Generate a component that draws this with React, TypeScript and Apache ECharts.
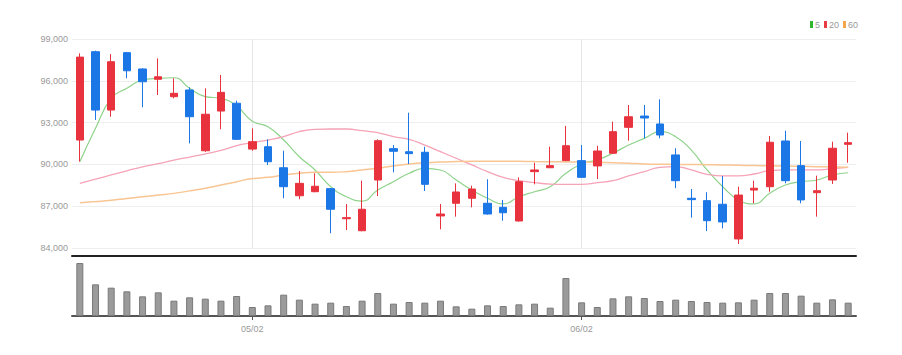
import React, { useEffect, useRef } from 'react';
import * as echarts from 'echarts';

const dates = [
  '04/16', '04/17', '04/18', '04/19', '04/22', '04/23', '04/24', '04/25', '04/26', '04/29',
  '04/30', '05/02', '05/03', '05/06', '05/07', '05/08', '05/09', '05/10', '05/13', '05/14',
  '05/15', '05/16', '05/17', '05/20', '05/21', '05/22', '05/23', '05/24', '05/27', '05/28',
  '05/29', '05/30', '06/02', '06/03', '06/04', '06/05', '06/07', '06/10', '06/11', '06/12',
  '06/13', '06/14', '06/17', '06/18', '06/19', '06/20', '06/21', '06/24', '06/25', '06/26',
];

const opens = [
  91750, 98090, 93900, 98020, 96850, 96110, 94860, 95340, 90980, 93830,
  94390, 91100, 91270, 89760, 87750, 88040, 88260, 86100, 85240, 88880,
  91130, 90910, 90870, 86300, 87210, 87570, 87210, 86920, 85940, 89480,
  89760, 90270, 90270, 89890, 90800, 92660, 93470, 92900, 90680, 87570,
  87400, 87140, 84650, 88160, 88400, 91680, 89910, 87970, 88880, 91440,
];
const closes = [
  97700, 93900, 97370, 96720, 95930, 96290, 95100, 93420, 93600, 95170,
  91800, 91630, 90190, 88400, 88640, 88430, 86780, 86180, 86780, 91700,
  90940, 90770, 88570, 86440, 88020, 88230, 86440, 86530, 88760, 89600,
  89910, 91340, 89070, 90960, 92350, 93420, 93330, 92110, 88830, 87470,
  85960, 85870, 87800, 88290, 91590, 88830, 87450, 88110, 91160, 91560,
];
const lows = [
  90200, 93190, 93420, 96180, 94100, 94980, 94740, 91510, 90900, 92520,
  91750, 90980, 89960, 87570, 87500, 88000, 85060, 85290, 85200, 87730,
  89430, 90030, 88090, 85340, 86250, 86920, 86400, 85960, 85900, 88570,
  89740, 90240, 89040, 88950, 90760, 91700, 91870, 91870, 88290, 86180,
  85220, 85410, 84290, 87210, 88040, 88640, 87210, 86250, 88590, 90120,
];
const highs = [
  97970, 98160, 97920, 98070, 96900, 97610, 96180, 95530, 95460, 96420,
  94570, 92590, 91800, 90980, 89530, 89360, 88300, 87160, 88830, 91800,
  91390, 93710, 91270, 87160, 88640, 88470, 88930, 87450, 89070, 90120,
  91270, 92760, 91390, 91340, 93070, 94260, 94260, 94670, 91160, 88230,
  88000, 89170, 88400, 88830, 92040, 92420, 91680, 89190, 91630, 92280,
];

const ma5 = [
  90190, 92590, 94740, 95460, 96060, 96180, 96220, 95460, 94860, 94740,
  94190, 93100, 92710, 91750, 90550, 89600, 88400, 87680, 87370, 88160,
  88760, 89360, 89720, 89600, 88880, 88160, 87570, 87160, 87680, 88040,
  88400, 89360, 90030, 90320, 90800, 91390, 91870, 92350, 91990, 91030,
  89600, 88400, 87450, 87160, 87930, 88520, 88760, 88880, 89240, 89400,
];
const ma20 = [
  88640, 88940, 89240, 89540, 89830, 90050, 90300, 90530, 90750, 91000,
  91350, 91560, 91750, 91990, 92350, 92520, 92540, 92540, 92420, 92280,
  91990, 91800, 91390, 90910, 90440, 89960, 89480, 89070, 88830, 88690,
  88590, 88570, 88570, 88690, 88830, 89170, 89480, 89790, 89840, 89600,
  89290, 89170, 89170, 89310, 89550, 89600, 89600, 89600, 89690, 89790,
];
const ma60 = [
  87250, 87330, 87420, 87560, 87680, 87800, 87920, 88100, 88290, 88520,
  88760, 88980, 89070, 89240, 89360, 89430, 89430, 89480, 89600, 89720,
  89890, 90030, 90120, 90170, 90200, 90220, 90230, 90230, 90220, 90200,
  90190, 90180, 90170, 90150, 90120, 90080, 90030, 90010, 90000, 89990,
  89980, 89960, 89940, 89920, 89900, 89880, 89860, 89840, 89820, 89800,
];

const volumes = [
  159, 95, 85, 74, 59, 71, 46, 56, 52, 46,
  60, 27, 32, 64, 49, 37, 40, 30, 46, 69,
  37, 42, 40, 46, 29, 22, 32, 30, 35, 37,
  25, 114, 41, 27, 53, 59, 54, 45, 49, 45,
  42, 40, 41, 49, 69, 69, 61, 40, 50, 40,
];

const monthTickLabels = ['05/02', '06/02'];
const legendNames = ['5', '20', '60'];

const FONT = '"Liberation Sans Narrow", "Arial Narrow", "Liberation Sans", sans-serif';
const UP = '#e8323d';
const DOWN = '#1b76e6';

export default function App() {
  const ref = useRef<HTMLDivElement>(null);

  useEffect(() => {
    if (!ref.current) return;
    const chart = echarts.init(ref.current, null, { renderer: 'svg' });
    const candle = dates.map((_, i) => [opens[i], closes[i], lows[i], highs[i]]);
    const isMonth = (i: number) => monthTickLabels.includes(dates[i]);

    chart.setOption({
      animation: false,
      backgroundColor: '#fff',
      legend: {
        left: 810,
        top: 20,
        padding: 0,
        itemWidth: 3,
        itemHeight: 7,
        itemGap: 4,
        selectedMode: false,
        textStyle: { fontSize: 9, color: '#999', fontFamily: FONT, padding: [0, 0, 0, -3] },
        data: [
          { name: legendNames[0], icon: 'rect', itemStyle: { color: '#2fb52f' } },
          { name: legendNames[1], icon: 'rect', itemStyle: { color: '#ea3a44' } },
          { name: legendNames[2], icon: 'rect', itemStyle: { color: '#f5a54b' } },
        ],
      },
      grid: [
        { left: 72, right: 46, top: 39, height: 209 },
        { left: 72, right: 46, top: 262, height: 54 },
      ],
      xAxis: [
        {
          type: 'category',
          gridIndex: 0,
          data: dates,
          boundaryGap: true,
          offset: 8,
          axisLine: { show: true, onZero: false, lineStyle: { color: '#222', width: 2 } },
          axisTick: { show: false },
          axisLabel: { show: false },
          splitLine: {
            show: true,
            alignWithLabel: true,
            interval: (i: number) => isMonth(i),
            lineStyle: { color: '#e6e6e6', width: 1 },
          },
        },
        {
          type: 'category',
          gridIndex: 1,
          data: dates,
          boundaryGap: true,
          axisLine: { show: true, onZero: false, lineStyle: { color: '#555', width: 2 } },
          axisTick: {
            show: true,
            alignWithLabel: true,
            interval: (i: number) => isMonth(i),
            length: 4,
            lineStyle: { color: '#555', width: 1 },
          },
          axisLabel: {
            interval: (i: number) => isMonth(i),
            color: '#999',
            fontSize: 9,
            fontFamily: FONT,
            margin: 8,
          },
          splitLine: { show: false },
        },
      ],
      yAxis: [
        {
          type: 'value',
          gridIndex: 0,
          min: 84000,
          max: 99000,
          interval: 3000,
          axisLine: { show: false },
          axisTick: { show: false },
          axisLabel: {
            color: '#999',
            fontSize: 9,
            fontFamily: FONT,
            margin: 4,
            formatter: (v: number) => v.toLocaleString('en-US'),
          },
          splitLine: { show: true, lineStyle: { color: '#eeeeee', width: 1 } },
        },
        {
          type: 'value',
          gridIndex: 1,
          min: 0,
          max: 162,
          show: false,
          splitLine: { show: false },
        },
      ],
      series: [
        {
          type: 'candlestick',
          name: 'price',
          xAxisIndex: 0,
          yAxisIndex: 0,
          z: 3,
          data: candle,
          barWidth: 8,
          itemStyle: {
            color: UP,
            color0: DOWN,
            borderColor: UP,
            borderColor0: DOWN,
            borderWidth: 1,
          },
        },
        {
          type: 'line',
          name: legendNames[0],
          xAxisIndex: 0,
          yAxisIndex: 0,
          z: 2,
          data: ma5,
          smooth: true,
          showSymbol: false,
          symbol: 'none',
          lineStyle: { color: '#8fd38b', width: 1.2 },
          itemStyle: { color: '#2fb52f' },
        },
        {
          type: 'line',
          name: legendNames[1],
          xAxisIndex: 0,
          yAxisIndex: 0,
          z: 2,
          data: ma20,
          smooth: true,
          showSymbol: false,
          symbol: 'none',
          lineStyle: { color: '#f5a3b6', width: 1.3 },
          itemStyle: { color: '#ea3a44' },
        },
        {
          type: 'line',
          name: legendNames[2],
          xAxisIndex: 0,
          yAxisIndex: 0,
          z: 2,
          data: ma60,
          smooth: true,
          showSymbol: false,
          symbol: 'none',
          lineStyle: { color: '#f8c593', width: 1.5 },
          itemStyle: { color: '#f5a54b' },
        },
        {
          type: 'bar',
          name: 'volume',
          xAxisIndex: 1,
          yAxisIndex: 1,
          data: volumes,
          barWidth: 7,
          itemStyle: { color: '#9b9b9b', borderColor: '#7a7a7a', borderWidth: 1 },
        },
      ],
    });

    return () => chart.dispose();
  }, []);

  return (
    <div
      ref={ref}
      style={{ position: 'absolute', left: 0, top: 0, width: 902, height: 355 }}
    />
  );
}
